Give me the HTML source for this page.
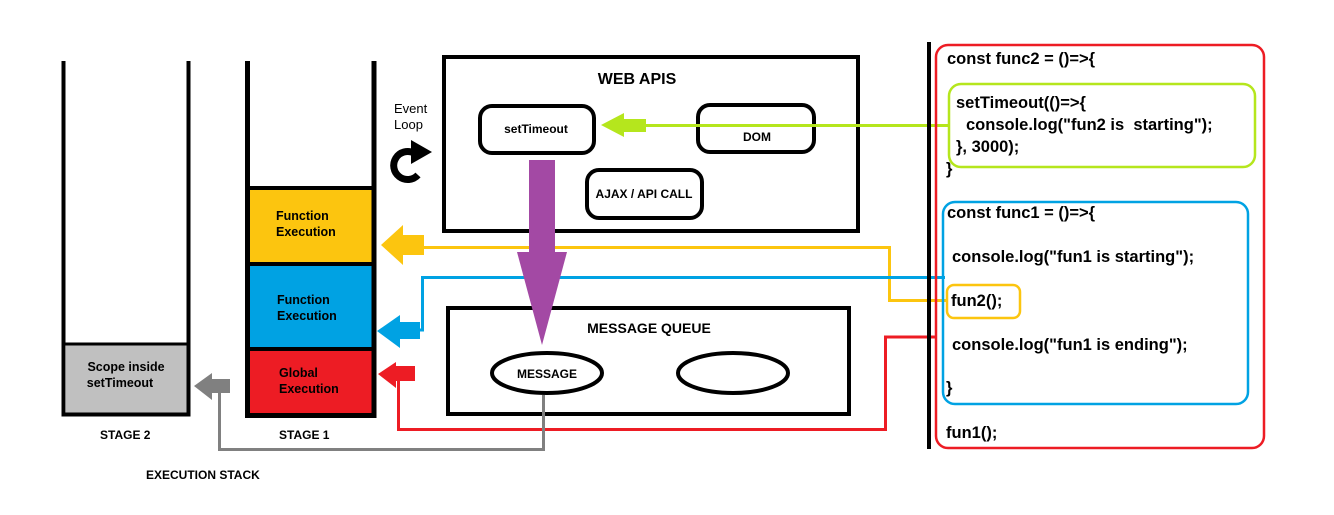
<!DOCTYPE html>
<html><head><meta charset="utf-8"><style>
html,body{margin:0;padding:0;background:#fff}
svg{display:block}
text{font-family:"Liberation Sans",Arial,sans-serif}
</style></head><body>
<svg width="1334" height="515" viewBox="0 0 1334 515" xmlns="http://www.w3.org/2000/svg">
<rect width="1334" height="515" fill="#fff"/>
<!-- Stage 2 -->
<rect x="66" y="345" width="121" height="68" fill="#c0c0c0"/>
<path d="M63.5 61 V414.5 H188.5 V61" fill="none" stroke="#000" stroke-width="4"/>
<line x1="64" y1="344" x2="188" y2="344" stroke="#000" stroke-width="3"/>
<text x="126" y="371" font-size="12.5" font-weight="bold" text-anchor="middle">Scope inside</text>
<text x="120" y="387" font-size="12.5" font-weight="bold" text-anchor="middle">setTimeout</text>
<!-- Stage 1 -->
<rect x="250" y="190" width="122" height="72" fill="#fcc50f"/>
<rect x="250" y="266" width="122" height="81" fill="#00a2e3"/>
<rect x="250" y="351" width="122" height="62" fill="#ed1c24"/>
<path d="M247.5 61 V415.5 H374 V61" fill="none" stroke="#000" stroke-width="5"/>
<line x1="247" y1="188" x2="374" y2="188" stroke="#000" stroke-width="4"/>
<line x1="247" y1="264" x2="374" y2="264" stroke="#000" stroke-width="4"/>
<line x1="247" y1="349" x2="374" y2="349" stroke="#000" stroke-width="4"/>
<text x="276" y="220" font-size="12.5" font-weight="bold">Function</text>
<text x="276" y="236" font-size="12.5" font-weight="bold">Execution</text>
<text x="277" y="304" font-size="12.5" font-weight="bold">Function</text>
<text x="277" y="320" font-size="12.5" font-weight="bold">Execution</text>
<text x="279" y="377" font-size="12.5" font-weight="bold">Global</text>
<text x="279" y="393" font-size="12.5" font-weight="bold">Execution</text>
<text x="100" y="439" font-size="12" font-weight="bold">STAGE 2</text>
<text x="279" y="439" font-size="12" font-weight="bold">STAGE 1</text>
<text x="146" y="479" font-size="12" font-weight="bold">EXECUTION STACK</text>
<!-- Event loop -->
<text x="394" y="113" font-size="13">Event</text>
<text x="394" y="129" font-size="13">Loop</text>
<path d="M418 175 A14 14 0 1 1 414 153" fill="none" stroke="#000" stroke-width="7"/>
<polygon points="411,140 432,152 411,164" fill="#000"/>
<!-- Web APIs -->
<rect x="444" y="57" width="414" height="174" fill="none" stroke="#000" stroke-width="4"/>
<text x="637" y="84" font-size="16" font-weight="bold" text-anchor="middle">WEB APIS</text>
<rect x="480" y="106" width="114" height="47" rx="12" fill="none" stroke="#000" stroke-width="4"/>
<text x="536" y="133" font-size="12" font-weight="bold" text-anchor="middle">setTimeout</text>
<rect x="698" y="105" width="116" height="47" rx="12" fill="none" stroke="#000" stroke-width="4"/>
<text x="757" y="141" font-size="12" font-weight="bold" text-anchor="middle">DOM</text>
<rect x="587" y="170" width="115" height="48" rx="12" fill="none" stroke="#000" stroke-width="4"/>
<text x="644" y="198" font-size="12" font-weight="bold" text-anchor="middle">AJAX / API CALL</text>
<!-- green -->
<line x1="640" y1="125.5" x2="948" y2="125.5" stroke="#b5e61d" stroke-width="3"/>
<polygon points="601,125 624,113 624,119 646,119 646,132 624,132 624,137" fill="#b5e61d"/>
<!-- Message queue -->
<rect x="448" y="308" width="401" height="106" fill="none" stroke="#000" stroke-width="4"/>
<text x="649" y="333" font-size="14" font-weight="bold" text-anchor="middle">MESSAGE QUEUE</text>
<ellipse cx="547" cy="373" rx="55" ry="20" fill="none" stroke="#000" stroke-width="4"/>
<text x="547" y="378" font-size="12" font-weight="bold" text-anchor="middle">MESSAGE</text>
<ellipse cx="733" cy="373" rx="55" ry="20" fill="none" stroke="#000" stroke-width="4"/>
<!-- yellow -->
<polyline points="420,247.5 889.5,247.5 889.5,300.5 948,300.5" fill="none" stroke="#fcc50f" stroke-width="3"/>
<polygon points="381,245 403,225 403,235 424,235 424,255 403,255 403,265" fill="#fcc50f"/>
<!-- blue -->
<polyline points="420,330 422.5,330 422.5,277.5 945,277.5" fill="none" stroke="#00a2e3" stroke-width="3"/>
<polygon points="377,331 400,315 400,322 420,322 420,339 400,339 400,348" fill="#00a2e3"/>
<!-- purple -->
<rect x="529" y="160" width="26" height="93" fill="#a349a4"/>
<polygon points="517,252 567,252 542,345" fill="#a349a4"/>
<!-- red -->
<polyline points="935,337 885.5,337 885.5,429.5 398.5,429.5 398.5,380" fill="none" stroke="#ed1c24" stroke-width="3"/>
<polygon points="378,374 396,362 396,366 415,366 415,381 396,381 396,388" fill="#ed1c24"/>
<!-- gray -->
<polyline points="543.5,395 543.5,449.5 219.5,449.5 219.5,392" fill="none" stroke="#808080" stroke-width="3"/>
<polygon points="194,386 212,373 212,379 230,379 230,393 212,393 212,400" fill="#808080"/>
<!-- divider -->
<line x1="929" y1="42" x2="929" y2="449" stroke="#000" stroke-width="4"/>
<!-- code panel -->
<rect x="936" y="45" width="328" height="403" rx="12" fill="none" stroke="#ed1c24" stroke-width="2.5"/>
<rect x="949" y="84" width="306" height="83" rx="12" fill="none" stroke="#b5e61d" stroke-width="2.5"/>
<rect x="943" y="202" width="305" height="202" rx="12" fill="none" stroke="#00a2e3" stroke-width="2.5"/>
<rect x="947" y="285" width="73" height="33" rx="7" fill="none" stroke="#fcc50f" stroke-width="2.5"/>
<g font-size="16.5" font-weight="bold">
<text x="947" y="64">const func2 = ()=&gt;{</text>
<text x="956" y="108">setTimeout(()=&gt;{</text>
<text x="966" y="130" xml:space="preserve">console.log("fun2 is  starting");</text>
<text x="956" y="152">}, 3000);</text>
<text x="946" y="174">}</text>
<text x="947" y="218">const func1 = ()=&gt;{</text>
<text x="952" y="262">console.log("fun1 is starting");</text>
<text x="951" y="306">fun2();</text>
<text x="952" y="350">console.log("fun1 is ending");</text>
<text x="946" y="393">}</text>
<text x="946" y="438">fun1();</text>
</g>
</svg>
</body></html>
